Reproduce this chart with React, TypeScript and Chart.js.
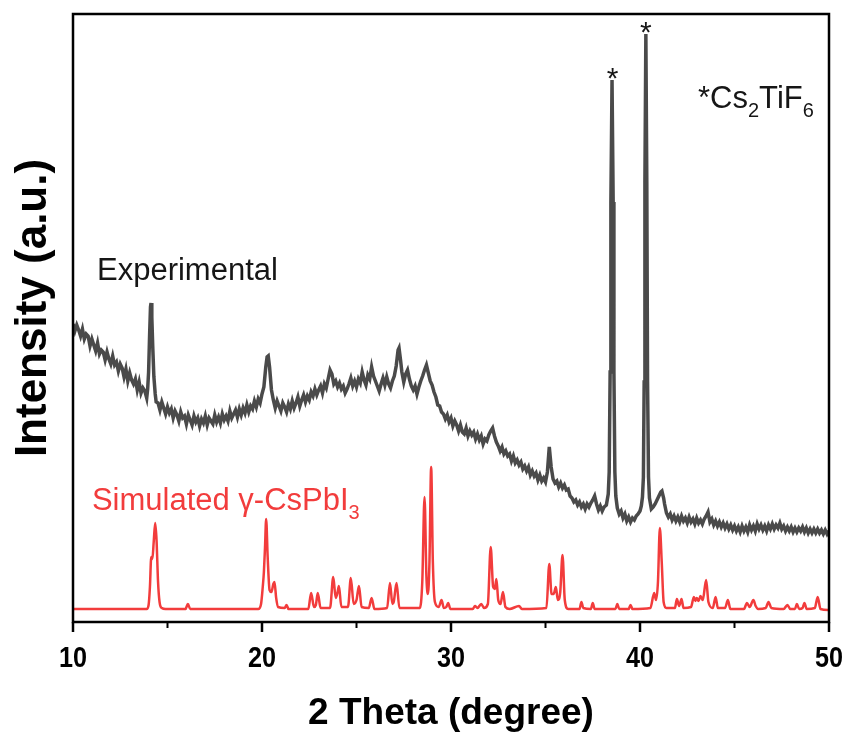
import React, { useEffect, useRef } from 'react';
import { Chart, registerables } from 'chart.js';
Chart.register(...registerables);

// 2θ (degree), intensity (a.u.)
const experimental: [number, number][] = [
  [10.0, 298], [10.1, 291], [10.2, 297], [10.3, 292], [10.4, 286], [10.5, 293], [10.6, 283], [10.7, 288], [10.8, 286], [10.9, 276],
  [11.0, 283], [11.1, 277], [11.2, 271], [11.3, 279], [11.4, 268], [11.5, 272], [11.6, 270], [11.7, 262], [11.8, 270], [11.9, 263],
  [12.0, 258], [12.1, 266], [12.2, 257], [12.3, 260], [12.4, 251], [12.5, 258], [12.6, 254], [12.7, 245], [12.8, 253], [12.9, 241],
  [13.0, 249], [13.1, 242], [13.2, 238], [13.3, 243], [13.4, 232], [13.5, 240], [13.6, 229], [13.7, 234], [13.8, 231], [13.9, 224],
  [13.95, 233], [14.0, 250], [14.05, 285], [14.1, 315], [14.13, 319], [14.17, 305], [14.22, 275], [14.28, 245], [14.35, 228], [14.4, 220],
  [14.5, 219], [14.6, 212], [14.7, 220], [14.8, 214], [14.9, 208], [15.0, 215], [15.1, 209], [15.2, 213], [15.3, 204], [15.4, 211],
  [15.5, 207], [15.6, 201], [15.7, 210], [15.8, 204], [15.9, 206], [16.0, 198], [16.1, 207], [16.2, 202], [16.3, 197], [16.4, 206],
  [16.5, 200], [16.6, 204], [16.7, 196], [16.8, 203], [16.9, 199], [17.0, 206], [17.1, 197], [17.2, 204], [17.3, 201], [17.4, 198],
  [17.5, 207], [17.6, 200], [17.7, 205], [17.8, 199], [17.9, 208], [18.0, 202], [18.1, 206], [18.2, 201], [18.3, 211], [18.4, 204],
  [18.5, 208], [18.6, 212], [18.7, 205], [18.8, 213], [18.9, 207], [19.0, 214], [19.1, 209], [19.2, 217], [19.3, 210], [19.4, 216],
  [19.5, 213], [19.6, 221], [19.7, 215], [19.8, 223], [19.9, 219], [20.0, 228], [20.1, 235], [20.2, 255], [20.27, 265], [20.33, 266],
  [20.4, 255], [20.5, 232], [20.6, 222], [20.7, 214], [20.8, 221], [20.9, 216], [21.0, 211], [21.1, 219], [21.2, 215], [21.3, 210],
  [21.4, 218], [21.5, 213], [21.6, 221], [21.7, 214], [21.8, 219], [21.9, 225], [22.0, 216], [22.1, 222], [22.2, 227], [22.3, 220],
  [22.4, 226], [22.5, 222], [22.6, 230], [22.7, 226], [22.8, 233], [22.9, 227], [23.0, 232], [23.1, 236], [23.2, 229], [23.3, 238],
  [23.4, 234], [23.5, 243], [23.6, 252], [23.7, 248], [23.8, 238], [23.9, 241], [24.0, 235], [24.1, 239], [24.2, 233], [24.3, 236],
  [24.4, 229], [24.5, 233], [24.6, 238], [24.7, 244], [24.8, 236], [24.9, 241], [25.0, 235], [25.1, 243], [25.2, 239], [25.3, 250],
  [25.4, 242], [25.5, 237], [25.6, 247], [25.7, 243], [25.8, 255], [25.9, 246], [26.0, 241], [26.1, 236], [26.2, 231], [26.3, 238],
  [26.4, 244], [26.5, 237], [26.6, 245], [26.7, 238], [26.8, 234], [26.9, 241], [27.0, 246], [27.1, 256], [27.2, 272], [27.25, 274],
  [27.33, 262], [27.4, 250], [27.5, 240], [27.6, 248], [27.7, 252], [27.8, 243], [27.9, 236], [28.0, 232], [28.1, 236], [28.2, 228],
  [28.3, 235], [28.4, 241], [28.5, 246], [28.6, 252], [28.7, 257], [28.8, 249], [28.9, 241], [29.0, 237], [29.1, 230], [29.2, 225],
  [29.3, 217], [29.4, 216], [29.5, 210], [29.6, 208], [29.7, 203], [29.8, 207], [29.9, 200], [30.0, 204], [30.1, 196], [30.2, 201],
  [30.3, 197], [30.4, 191], [30.5, 197], [30.6, 190], [30.7, 188], [30.8, 194], [30.9, 186], [31.0, 191], [31.1, 187], [31.2, 190],
  [31.3, 183], [31.4, 188], [31.5, 182], [31.6, 186], [31.7, 178], [31.8, 183], [31.9, 181], [32.0, 187], [32.1, 191], [32.2, 194],
  [32.3, 186], [32.4, 180], [32.5, 176], [32.6, 171], [32.7, 175], [32.8, 168], [32.9, 171], [33.0, 166], [33.1, 168], [33.2, 161],
  [33.3, 166], [33.4, 159], [33.5, 162], [33.6, 157], [33.7, 160], [33.8, 153], [33.9, 156], [34.0, 151], [34.1, 155], [34.2, 147],
  [34.3, 151], [34.4, 146], [34.5, 149], [34.6, 142], [34.7, 147], [34.8, 141], [34.9, 144], [35.0, 140], [35.1, 150], [35.2, 175],
  [35.3, 155], [35.4, 143], [35.5, 139], [35.6, 141], [35.7, 135], [35.8, 139], [35.9, 134], [36.0, 137], [36.1, 132], [36.2, 133],
  [36.3, 126], [36.4, 124], [36.5, 120], [36.6, 122], [36.7, 117], [36.8, 120], [36.9, 115], [37.0, 118], [37.1, 113], [37.2, 118],
  [37.3, 115], [37.4, 119], [37.5, 122], [37.6, 126], [37.7, 118], [37.8, 112], [37.9, 116], [38.0, 111], [38.1, 115], [38.22, 117],
  [38.32, 128], [38.37, 150], [38.42, 250], [38.46, 420], [38.52, 542], [38.58, 420], [38.62, 250], [38.67, 150], [38.72, 126], [38.8, 114],
  [38.9, 108], [39.0, 111], [39.1, 104], [39.2, 108], [39.3, 101], [39.4, 105], [39.5, 100], [39.6, 104], [39.7, 102], [39.8, 106],
  [39.9, 108], [40.0, 111], [40.07, 116], [40.13, 125], [40.18, 145], [40.22, 240], [40.26, 440], [40.31, 588], [40.36, 440], [40.4, 240],
  [40.45, 145], [40.5, 124], [40.6, 113], [40.7, 115], [40.8, 118], [40.9, 122], [41.0, 126], [41.1, 130], [41.16, 131], [41.25, 124],
  [41.3, 118], [41.4, 109], [41.5, 105], [41.6, 108], [41.7, 102], [41.8, 106], [41.9, 101], [42.0, 105], [42.1, 100], [42.2, 106],
  [42.3, 101], [42.4, 104], [42.5, 99], [42.6, 105], [42.7, 100], [42.8, 103], [42.9, 98], [43.0, 104], [43.1, 99], [43.2, 102],
  [43.3, 98], [43.4, 103], [43.5, 106], [43.6, 110], [43.7, 100], [43.8, 103], [43.9, 97], [44.0, 101], [44.1, 96], [44.2, 100],
  [44.3, 95], [44.4, 99], [44.5, 94], [44.6, 98], [44.7, 93], [44.8, 97], [44.9, 92], [45.0, 96], [45.1, 91], [45.2, 95],
  [45.3, 90], [45.4, 96], [45.5, 91], [45.6, 95], [45.7, 90], [45.8, 97], [45.9, 92], [46.0, 96], [46.1, 91], [46.2, 98],
  [46.3, 93], [46.4, 97], [46.5, 92], [46.6, 96], [46.7, 91], [46.8, 97], [46.9, 93], [47.0, 98], [47.1, 93], [47.2, 97],
  [47.3, 94], [47.4, 99], [47.5, 93], [47.6, 96], [47.7, 91], [47.8, 95], [47.9, 91], [48.0, 95], [48.1, 90], [48.2, 94],
  [48.3, 90], [48.4, 94], [48.5, 91], [48.6, 95], [48.7, 90], [48.8, 94], [48.9, 89], [49.0, 93], [49.1, 89], [49.2, 93],
  [49.3, 89], [49.4, 93], [49.5, 89], [49.6, 92], [49.7, 88], [49.8, 92], [49.9, 88], [50.0, 91],
];

const simulated: [number, number][] = [
  [10.0, 13], [13.9, 13], [14.0, 17], [14.07, 35], [14.14, 65], [14.2, 63], [14.27, 80], [14.35, 99], [14.42, 82], [14.5, 40],
  [14.58, 20], [14.7, 14], [14.9, 13], [15.95, 13], [16.08, 18], [16.2, 13], [19.8, 13], [19.95, 18], [20.04, 35], [20.1, 50],
  [20.16, 75], [20.22, 103], [20.3, 65], [20.4, 32], [20.5, 30], [20.6, 38], [20.66, 40], [20.75, 24], [20.85, 15], [21.2, 14],
  [21.3, 17], [21.4, 13], [22.45, 13], [22.6, 29], [22.75, 15], [22.85, 17], [22.95, 29], [23.1, 14], [23.6, 14], [23.77, 45],
  [23.9, 24], [24.0, 30], [24.07, 36], [24.2, 15], [24.55, 15], [24.7, 44], [24.85, 18], [25.0, 22], [25.13, 36], [25.27, 15],
  [25.65, 14], [25.8, 24], [25.95, 13], [26.62, 14], [26.77, 39], [26.9, 18], [26.97, 20], [27.12, 39], [27.27, 14], [28.35, 14],
  [28.48, 40], [28.6, 125], [28.7, 45], [28.78, 28], [28.86, 60], [28.95, 155], [29.04, 60], [29.15, 20], [29.35, 15], [29.5, 22],
  [29.62, 14], [29.75, 15], [29.85, 19], [29.97, 13], [31.15, 13], [31.27, 16], [31.4, 14], [31.6, 18], [31.75, 14], [31.95, 18],
  [32.1, 75], [32.23, 35], [32.32, 33], [32.4, 43], [32.5, 22], [32.62, 18], [32.75, 30], [32.88, 15], [33.1, 13], [33.6, 16],
  [33.75, 13], [35.05, 14], [35.2, 58], [35.32, 28], [35.43, 28], [35.55, 35], [35.65, 22], [35.78, 30], [35.9, 67], [36.02, 22],
  [36.2, 13], [36.8, 13], [36.9, 20], [37.0, 14], [37.4, 13], [37.5, 19], [37.6, 13], [38.7, 13], [38.8, 18], [38.9, 13],
  [39.4, 13], [39.5, 17], [39.6, 13], [40.55, 14], [40.75, 29], [40.85, 22], [40.95, 40], [41.05, 94], [41.15, 60], [41.25, 20],
  [41.4, 14], [41.85, 14], [41.95, 23], [42.07, 16], [42.2, 23], [42.3, 14], [42.7, 15], [42.85, 25], [42.93, 21], [43.0, 24],
  [43.1, 21], [43.2, 26], [43.32, 22], [43.5, 42], [43.62, 20], [43.85, 14], [44.0, 25], [44.12, 14], [44.5, 14], [44.65, 22],
  [44.78, 13], [45.5, 13], [45.66, 19], [45.8, 15], [46.0, 22], [46.12, 16], [46.25, 13], [46.65, 14], [46.8, 20], [46.95, 14],
  [47.6, 13], [47.8, 17], [47.95, 13], [48.2, 13], [48.3, 18], [48.42, 13], [48.6, 14], [48.7, 19], [48.82, 13], [49.25, 14],
  [49.4, 25], [49.55, 13], [50.0, 12],
];

const xMajorTicks = [10, 20, 30, 40, 50];
const xMinorTicks = [15, 25, 35, 45];
const starPeaks: [number, number][] = [[38.55, 534], [40.31, 580]];

const FONT = '"Liberation Sans", Arial, Helvetica, sans-serif';
const BLACK_LINE = '#4a4a4a';
const RED = '#f23c3c';
const TEXT = '#161616';

type Part = [string, boolean];

function drawRich(ctx: CanvasRenderingContext2D, parts: Part[], x: number, y: number, size: number, color: string) {
  ctx.fillStyle = color;
  ctx.textBaseline = 'alphabetic';
  ctx.textAlign = 'left';
  let cx = x;
  for (const [t, sub] of parts) {
    const s = sub ? Math.round(size * 0.65) : size;
    ctx.font = `${s}px ${FONT}`;
    ctx.fillText(t, cx, sub ? y + size * 0.3 : y);
    cx += ctx.measureText(t).width;
  }
}

const decor = {
  id: 'decor',
  afterDatasetsDraw(chart: any) {
    const { ctx, chartArea: a, scales } = chart;
    const x = scales.x, y = scales.y;
    ctx.save();
    ctx.strokeStyle = '#000';
    ctx.lineWidth = 2.5;
    ctx.strokeRect(a.left, a.top, a.right - a.left, a.bottom - a.top);
    // major + minor ticks (outward)
    for (const v of xMajorTicks) {
      const px = x.getPixelForValue(v);
      ctx.beginPath();
      ctx.moveTo(px, a.bottom);
      ctx.lineTo(px, a.bottom + 10);
      ctx.stroke();
    }
    ctx.lineWidth = 2;
    for (const v of xMinorTicks) {
      const px = x.getPixelForValue(v);
      ctx.beginPath();
      ctx.moveTo(px, a.bottom);
      ctx.lineTo(px, a.bottom + 6);
      ctx.stroke();
    }
    // tick labels (condensed bold)
    ctx.fillStyle = '#000';
    ctx.font = `bold 30px ${FONT}`;
    ctx.textAlign = 'center';
    ctx.textBaseline = 'alphabetic';
    for (const v of xMajorTicks) {
      ctx.save();
      ctx.translate(x.getPixelForValue(v), a.bottom + 45);
      ctx.scale(0.84, 1);
      ctx.fillText(String(v), 0, 0);
      ctx.restore();
    }
    // y-axis title
    ctx.save();
    ctx.translate(a.left - 39, (a.top + a.bottom) / 2 - 10);
    ctx.rotate(-Math.PI / 2);
    ctx.font = `bold 44px ${FONT}`;
    ctx.textAlign = 'center';
    ctx.textBaseline = 'middle';
    ctx.fillStyle = '#000';
    ctx.fillText('Intensity (a.u.)', 0, 0);
    ctx.restore();
    // annotations
    drawRich(ctx, [['Experimental', false]], x.getPixelForValue(11.27), y.getPixelForValue(342), 31, TEXT);
    drawRich(ctx, [['Simulated γ-CsPbI', false], ['3', true]], x.getPixelForValue(11.0), y.getPixelForValue(112), 31, RED);
    drawRich(ctx, [['*Cs', false], ['2', true], ['TiF', false], ['6', true]], x.getPixelForValue(43.07), y.getPixelForValue(514), 31, TEXT);
    ctx.font = `30px ${FONT}`;
    ctx.textAlign = 'center';
    ctx.textBaseline = 'alphabetic';
    ctx.fillStyle = TEXT;
    for (const [t, v] of starPeaks) {
      ctx.fillText('*', x.getPixelForValue(t), y.getPixelForValue(v));
    }
    ctx.restore();
  },
};

export default function App() {
  const ref = useRef<HTMLCanvasElement>(null);
  useEffect(() => {
    const chart = new Chart(ref.current as HTMLCanvasElement, {
      type: 'line',
      data: {
        datasets: [
          {
            data: experimental.map(([x, y]) => ({ x, y })),
            borderColor: BLACK_LINE,
            borderWidth: 3.5,
            pointRadius: 0,
            tension: 0,
          },
          {
            data: simulated.map(([x, y]) => ({ x, y })),
            borderColor: RED,
            borderWidth: 2.5,
            pointRadius: 0,
            cubicInterpolationMode: 'monotone',
          },
        ],
      },
      options: {
        responsive: false,
        animation: false,
        events: [],
        layout: { padding: { top: 14, right: 21, left: 0, bottom: 0 } },
        plugins: { legend: { display: false }, tooltip: { enabled: false } },
        scales: {
          x: {
            type: 'linear',
            min: 10,
            max: 50,
            afterFit: (s: any) => { s.height = 114; },
            ticks: { display: false },
            grid: { display: false },
            border: { display: false },
            title: {
              display: true,
              text: '2 Theta (degree)',
              color: '#000',
              font: { family: FONT, size: 37, weight: 'bold', lineHeight: 1 },
              padding: { top: 0, bottom: 4 },
            },
          },
          y: {
            type: 'linear',
            min: 0,
            max: 608,
            afterFit: (s: any) => { s.width = 73; },
            ticks: { display: false },
            grid: { display: false },
            border: { display: false },
          },
        },
      } as any,
      plugins: [decor],
    });
    return () => chart.destroy();
  }, []);
  return (
    <div style={{ position: 'fixed', left: 0, top: 0, width: 850, height: 736, background: '#fff' }}>
      <canvas ref={ref} width={850} height={736} style={{ display: 'block', width: 850, height: 736 }} />
    </div>
  );
}
